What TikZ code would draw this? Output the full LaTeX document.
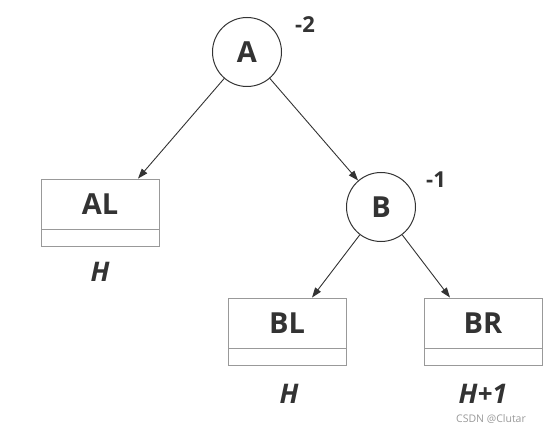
\documentclass[tikz,border=0pt]{standalone}
\usepackage{fontspec}
\setmainfont{Open Sans}
\usetikzlibrary{arrows.meta}
\definecolor{txt}{HTML}{333333}
\definecolor{boxgray}{HTML}{999999}
\begin{document}
\begin{tikzpicture}[x=1pt,y=-1pt,
  circ/.style={circle,draw=txt,line width=1pt,minimum size=69pt,inner sep=0pt,font=\fontsize{29}{30}\selectfont\bfseries,text=txt},
  boxtop/.style={draw=boxgray,line width=0.9pt,minimum width=118pt,minimum height=50pt,inner sep=0pt,font=\fontsize{29}{30}\selectfont\bfseries,text=txt},
  boxbot/.style={draw=boxgray,line width=0.9pt,minimum width=118pt,minimum height=17pt,inner sep=0pt},
  bal/.style={font=\fontsize{22}{24}\selectfont\bfseries,text=txt},
  ht/.style={font=\fontsize{27}{29}\selectfont\bfseries\itshape,text=txt},
  edge/.style={draw=txt,line width=0.9pt,-{Triangle[length=10pt,width=7pt]}}]
\useasboundingbox (0,0) rectangle (554,433);
\node[circ] (A) at (247,52) {A};
\node[circ] (B) at (381,207) {B};
\node[bal] (bA) at (305,25) {-2};
\node[bal] (bB) at (436,180) {-1};
\node[boxtop] (AL) at (100,204) {AL};
\node[boxbot,anchor=north] (ALb) at (AL.south) {};
\node[boxtop] (BL) at (287,323) {BL};
\node[boxbot,anchor=north] (BLb) at (BL.south) {};
\node[boxtop] (BR) at (483,323) {BR};
\node[boxbot,anchor=north] (BRb) at (BR.south) {};
\node[ht] (hAL) at (100,272) {H};
\node[ht] (hBL) at (289,394) {H};
\node[ht] (hBR) at (483,394) {H+1};
\node[font=\fontsize{10.5}{11}\selectfont,text=gray!80] (wm) at (491,419) {CSDN @Clutar};
\draw[edge] (A) -- (AL.north -| 138,0);
\draw[edge] (A) -- (B);
\draw[edge] (B) -- (BL.north -| 312,0);
\draw[edge] (B) -- (BR.north -| 450,0);
\end{tikzpicture}
\end{document}
